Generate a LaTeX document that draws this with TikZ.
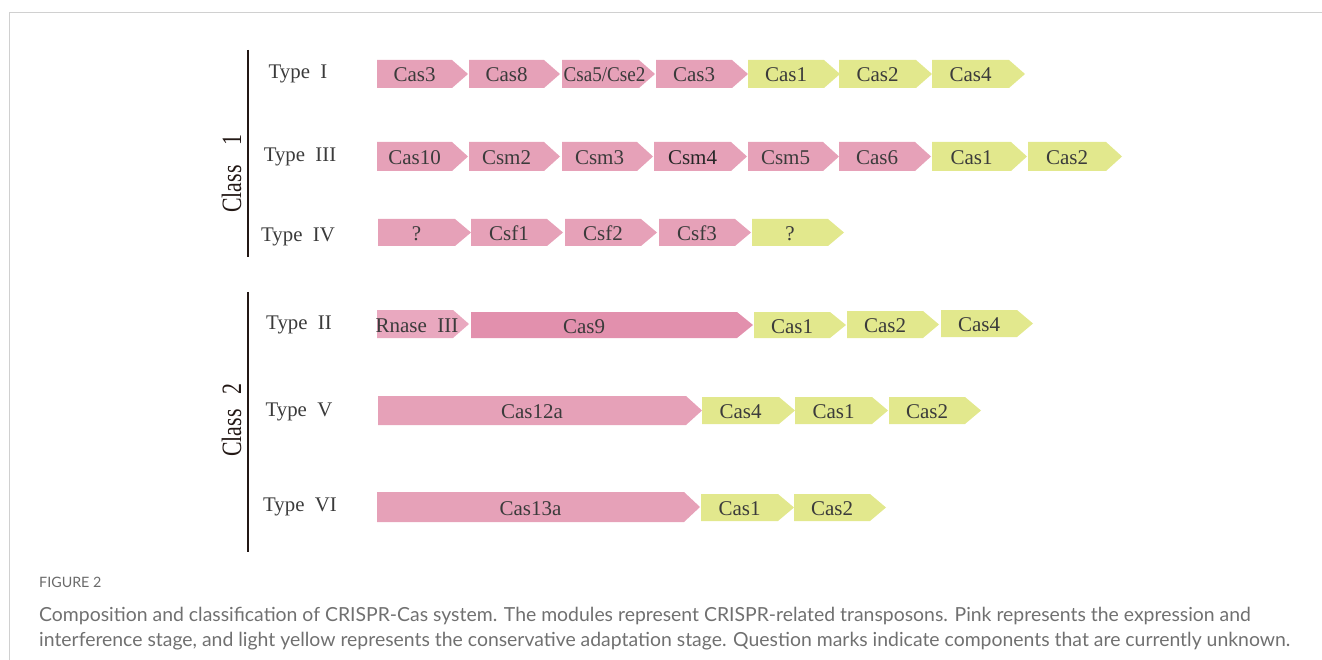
\documentclass[tikz,border=0pt]{standalone}
\usepackage{fontspec}
\setmainfont{Liberation Serif}
\newfontfamily\capfont{Lato}

\definecolor{pinkA}{HTML}{E6A1B8}
\definecolor{pinkB}{HTML}{E290AD}
\definecolor{pinkC}{HTML}{E9A8BF}
\definecolor{yel}{HTML}{E2E88D}
\definecolor{ink}{HTML}{3B3B3B}
\definecolor{rulecol}{HTML}{231815}
\definecolor{framecol}{HTML}{D0D0D0}
\definecolor{capgray}{HTML}{707070}
\definecolor{capdark}{HTML}{6A6A6A}

\tikzset{
  genetext/.style={font=\fontsize{21}{21}\selectfont, text=ink, inner sep=0pt, anchor=base},
  typetext/.style={font=\fontsize{20.8}{20.8}\selectfont, text=ink, inner sep=0pt, anchor=base},
  classtext/.style={font=\fontsize{28}{28}\selectfont, text=rulecol, inner sep=0pt, rotate=90, anchor=base west},
  classrule/.style={draw=rulecol, line width=1.8pt},
  captitle/.style={font=\capfont\fontsize{14.3}{14.3}\selectfont, text=capdark, inner sep=0pt, anchor=base west},
  capline/.style={font=\capfont\fontsize{19.4}{19.4}\selectfont, text=capgray, inner sep=0pt, anchor=base west},
}

% gene block: [text shift]{name}{x left}{x tip}{y top}{y bottom}{colour}{label}
\newcommand\gene[8][0]{%
  \fill[#7] (#3,#5) -- ({#4-16},#5) -- (#4,{(#5+#6)/2}) -- ({#4-16},#6) -- (#3,#6) -- cycle;
  \node[genetext] (#2) at ({(#3+#4-16)/2+#1},{(#5+#6)/2+8}) {#8};
}

\begin{document}
\begin{tikzpicture}[x=1pt,y=-1pt]
\useasboundingbox (0,0) rectangle (1322,660);

% page frame
\draw[framecol, line width=1pt] (9,660) -- (9,13) -- (1322,13);

% class brackets
\coordinate (c1top) at (248,50);
\coordinate (c1bot) at (248,257);
\coordinate (c2top) at (248,292);
\coordinate (c2bot) at (248,552);
\draw[classrule] (c1top) -- (c1bot);
\draw[classrule] (c2top) -- (c2bot);
\node[classtext] (class1) at (241,213) {\scalebox{0.78}[1]{Class}\hspace{20pt}\scalebox{0.78}[1]{1}};
\node[classtext] (class2) at (241,457) {\scalebox{0.78}[1]{Class}\hspace{15pt}\scalebox{0.78}[1]{2}};

% type labels
\node[typetext] (t1) at (298,79)  {Type\ \ I};
\node[typetext] (t3) at (300,162) {Type\ \ III};
\node[typetext] (t4) at (298,242) {Type\ \ IV};
\node[typetext] (t2) at (299,329) {Type\ \ II};
\node[typetext] (t5) at (299,416) {Type\ \ V};
\node[typetext] (t6) at (300,511) {Type\ \ VI};

% Type I
\gene{r1a}{377}{468}{60}{88}{pinkA}{Cas3}
\gene{r1b}{469}{560}{60}{88}{pinkA}{Cas8}
\gene[4]{r1c}{562}{655}{60}{88}{pinkA}{\scalebox{0.91}[1]{Csa5/Cse2}}
\gene{r1d}{656}{748}{60}{88}{pinkA}{Cas3}
\gene{r1e}{748}{840}{60}{88}{yel}{Cas1}
\gene{r1f}{839}{932}{60}{88}{yel}{Cas2}
\gene{r1g}{932}{1025}{60}{88}{yel}{Cas4}

% Type III
\gene{r3a}{377}{468}{142}{171}{pinkA}{Cas10}
\gene{r3b}{469}{560}{142}{171}{pinkA}{Csm2}
\gene{r3c}{562}{653}{142}{171}{pinkA}{Csm3}
\gene{r3d}{654}{747}{142}{171}{pinkA}{\textcolor{black!85}{Csm4}}
\gene{r3e}{748}{839}{142}{171}{pinkA}{Csm5}
\gene{r3f}{839}{931}{142}{171}{pinkA}{Cas6}
\gene{r3g}{932}{1027}{142}{171}{yel}{Cas1}
\gene{r3h}{1028}{1122}{142}{171}{yel}{Cas2}

% Type IV
\gene{r4a}{378}{471}{219}{246}{pinkA}{?}
\gene{r4b}{471}{563}{219}{246}{pinkA}{Csf1}
\gene{r4c}{565}{657}{219}{246}{pinkA}{Csf2}
\gene{r4d}{659}{751}{219}{246}{pinkA}{Csf3}
\gene{r4e}{752}{844}{219}{246}{yel}{?}

% Type II
\gene[2]{r2a}{377}{469}{310}{338}{pinkC}{Rnase\ \ III}
\gene[-20]{r2b}{471}{753}{312}{338}{pinkB}{Cas9}
\gene{r2c}{754}{846}{312}{338}{yel}{Cas1}
\gene{r2d}{847}{939}{311}{338}{yel}{Cas2}
\gene{r2e}{941}{1033}{310}{337}{yel}{Cas4}

% Type V
\gene{r5a}{378}{702}{396}{425}{pinkA}{Cas12a}
\gene{r5b}{702}{795}{397}{424}{yel}{Cas4}
\gene{r5c}{795}{888}{397}{424}{yel}{Cas1}
\gene{r5d}{889}{981}{397}{424}{yel}{Cas2}

% Type VI
\gene{r6a}{377}{700}{492}{522}{pinkA}{Cas13a}
\gene{r6b}{701}{794}{494}{521}{yel}{Cas1}
\gene{r6c}{794}{886}{494}{521}{yel}{Cas2}

% caption
\node[captitle] (fig) at (39,587) {FIGURE 2};
\node[capline] (cap1) at (39,621) {Composition and classification of CRISPR-Cas system. The modules represent CRISPR-related transposons. Pink represents the expression and};
\node[capline] (cap2) at (39,646) {interference stage, and light yellow represents the conservative adaptation stage. Question marks indicate components that are currently unknown.};
\end{tikzpicture}
\end{document}
